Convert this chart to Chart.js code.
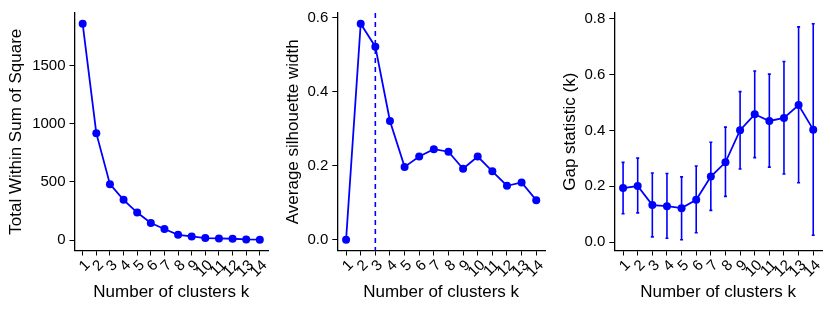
<!DOCTYPE html>
<html>
<head>
<meta charset="utf-8">
<script src="https://cdn.jsdelivr.net/npm/chart.js@4"></script>
<style>
    body { margin: 0; background: #fff; }
    #wrap { position: relative; width: 830px; height: 312px; }
    #wrap canvas { position: absolute; top: 0; }
</style>
</head>
<body>
<div id="wrap">
    <canvas id="wss" width="277" height="312" style="left:0"></canvas>
    <canvas id="silhouette" width="277" height="312" style="left:277px"></canvas>
    <canvas id="gap" width="276" height="312" style="left:554px"></canvas>
</div>
<script>
// Cluster counts (x axis of all three panels)
const kValues = [1, 2, 3, 4, 5, 6, 7, 8, 9, 10, 11, 12, 13, 14];

// Elbow method
const wssValues = [1857, 918, 480, 345, 236, 146, 95, 45, 31, 17, 14, 11, 5, 3];
const wssTicks = [0, 500, 1000, 1500];

// Silhouette method
const silValues = [0, 0.584, 0.522, 0.321, 0.197, 0.225, 0.245, 0.238, 0.192, 0.225, 0.185, 0.146, 0.155, 0.107];
const silTicks = [0, 0.2, 0.4, 0.6];
const optimalK = 3;

// Gap statistic with +/- 1 SE
const gapValues = [0.194, 0.201, 0.133, 0.129, 0.122, 0.152, 0.235, 0.286, 0.401, 0.458, 0.434, 0.445, 0.491, 0.403];
const gapLower = [0.102, 0.105, 0.019, 0.014, 0.009, 0.034, 0.114, 0.164, 0.262, 0.303, 0.269, 0.244, 0.213, 0.025];
const gapUpper = [0.286, 0.301, 0.248, 0.246, 0.234, 0.273, 0.358, 0.412, 0.539, 0.613, 0.602, 0.647, 0.771, 0.782];
const gapTicks = [0, 0.2, 0.4, 0.6, 0.8];

const BLUE = '#0000ff';

Chart.defaults.font.family = '"Liberation Sans", Arial, sans-serif';
Chart.defaults.color = '#000';
Chart.defaults.animation = false;

// Error bars for the gap panel
const errorBars = {
    id: 'errorBars',
    beforeDatasetsDraw(chart, args, opts) {
        if (!opts.lower) return;
        const { ctx, scales: { x, y } } = chart;
        ctx.save();
        ctx.strokeStyle = BLUE;
        ctx.lineWidth = 1.6;
        kValues.forEach((k, i) => {
            const px = x.getPixelForValue(k);
            const top = y.getPixelForValue(opts.upper[i]);
            const bot = y.getPixelForValue(opts.lower[i]);
            ctx.beginPath();
            ctx.moveTo(px, top); ctx.lineTo(px, bot);
            ctx.moveTo(px - 1.5, top); ctx.lineTo(px + 1.5, top);
            ctx.moveTo(px - 1.5, bot); ctx.lineTo(px + 1.5, bot);
            ctx.stroke();
        });
        ctx.restore();
    }
};

// Dashed line at the suggested k
const vLine = {
    id: 'vLine',
    beforeDatasetsDraw(chart, args, opts) {
        if (opts.value === undefined) return;
        const { ctx, chartArea, scales: { x } } = chart;
        const px = x.getPixelForValue(opts.value);
        ctx.save();
        ctx.strokeStyle = BLUE;
        ctx.lineWidth = 1.6;
        ctx.setLineDash([5, 4]);
        ctx.beginPath();
        ctx.moveTo(px, chartArea.top);
        ctx.lineTo(px, chartArea.bottom);
        ctx.stroke();
        ctx.restore();
    }
};

function xScale() {
    return {
        type: 'linear',
        min: 0.4,
        max: 14.6,
        afterBuildTicks: s => { s.ticks = kValues.map(v => ({ value: v })); },
        afterFit: s => { s.height = 61.5; },
        grid: { drawOnChartArea: false, tickLength: 5, color: '#000', lineWidth: 1 },
        border: { color: '#000', width: 1.3 },
        ticks: { autoSkip: false, minRotation: 45, maxRotation: 45, padding: 1, labelOffset: 5, font: { size: 15 }, callback: v => String(v) },
        title: { display: true, text: 'Number of clusters k', font: { size: 17 }, padding: { top: 0, bottom: 9 } }
    };
}

function yScale(min, max, ticks, width, title, digits) {
    return {
        min, max,
        afterBuildTicks: s => { s.ticks = ticks.map(v => ({ value: v })); },
        afterFit: s => { s.width = width; },
        grid: { drawOnChartArea: false, tickLength: 5, color: '#000', lineWidth: 1 },
        border: { color: '#000', width: 1.3 },
        ticks: { padding: 4, font: { size: 15 }, callback: v => v.toFixed(digits) },
        title: { display: true, text: title, font: { size: 17 }, padding: { top: 6, bottom: 0 } }
    };
}

function createPanel(canvasId, values, y, padRight, pluginOpts) {
    const ctx = document.getElementById(canvasId).getContext('2d');
    return new Chart(ctx, {
        type: 'line',
        data: {
            datasets: [{
                data: kValues.map((k, i) => ({ x: k, y: values[i] })),
                borderColor: BLUE,
                backgroundColor: BLUE,
                borderWidth: 1.8,
                pointRadius: 4,
                pointBorderWidth: 0,
                tension: 0
            }]
        },
        options: {
            responsive: false,
            layout: { padding: { top: 8.5, right: padRight, bottom: 0, left: 0 } },
            plugins: Object.assign({ legend: { display: false }, tooltip: { enabled: false } }, pluginOpts),
            scales: { x: xScale(), y }
        },
        plugins: [errorBars, vLine]
    });
}

createPanel('wss', wssValues, yScale(-90, 1950, wssTicks, 74.5, 'Total Within Sum of Square', 0), 9, {});
createPanel('silhouette', silValues, yScale(-0.029, 0.613, silTicks, 60.3, 'Average silhouette width', 1), 9,
    { vLine: { value: optimalK } });
createPanel('gap', gapValues, yScale(-0.0297, 0.8207, gapTicks, 60.3, 'Gap statistic (k)', 1), 8,
    { errorBars: { lower: gapLower, upper: gapUpper } });
</script>
</body>
</html>
